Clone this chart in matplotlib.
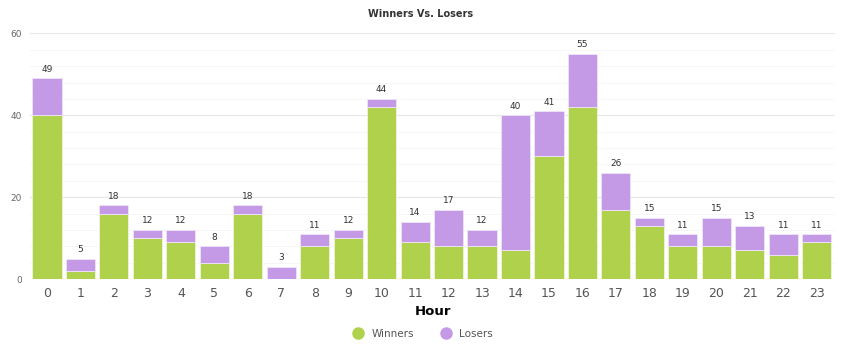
import matplotlib
matplotlib.use("Agg")
import matplotlib.pyplot as plt
from matplotlib.lines import Line2D
import numpy as np

hours = list(range(24))
totals = [49, 5, 18, 12, 12, 8, 18, 3, 11, 12, 44, 14, 17, 12, 40, 41, 55, 26, 15, 11, 15, 13, 11, 11]
winners = [40, 2, 16, 10, 9, 4, 16, 0, 8, 10, 42, 9, 8, 8, 7, 30, 42, 17, 13, 8, 8, 7, 6, 9]
losers = [t - w for t, w in zip(totals, winners)]

green = '#b0d14b'
purple = '#c49ae6'

fig = plt.figure(figsize=(8.41, 3.56), dpi=100)
ax = fig.add_axes([0.036, 0.216, 0.957, 0.690])

x = np.arange(len(hours))
ax.bar(x, winners, width=0.87, color=green, edgecolor='#eef5dd', linewidth=0.6, zorder=3)
ax.bar(x, losers, bottom=winners, width=0.87, color=purple, edgecolor='#efe4fa', linewidth=0.6, zorder=3)

for xi, t in zip(x, totals):
    ax.text(xi, t + 1.1, str(t), ha='center', va='bottom', fontsize=6.5, color='#333333')

ax.set_xlim(-0.5, 23.55)
ax.set_ylim(0, 60)
ax.set_yticks([0, 20, 40, 60])
ax.set_yticks(np.arange(0, 61, 4), minor=True)
ax.set_xticks(x)
ax.set_xticklabels([str(h) for h in hours])
ax.tick_params(axis='y', which='both', length=0, labelsize=6.5, labelcolor='#666666', pad=6)
ax.tick_params(axis='x', length=0, labelsize=9, labelcolor='#555555', pad=6)
ax.grid(axis='y', which='major', color='#e6e6e6', linewidth=0.8, zorder=0)
ax.grid(axis='y', which='minor', color='#f5f5f5', linewidth=0.6, zorder=0)
for s in ax.spines.values():
    s.set_visible(False)

ax.set_xlabel('Hour', fontsize=9.5, fontweight='bold', color='#000000', labelpad=3)
fig.text(0.5, 0.96, 'Winners Vs. Losers', ha='center', va='center', fontsize=7, fontweight='bold', color='#333333')

handles = [Line2D([], [], marker='o', linestyle='', markersize=8, color=green),
           Line2D([], [], marker='o', linestyle='', markersize=8, color=purple)]
fig.legend(handles, ['Winners', 'Losers'], loc='center', bbox_to_anchor=(0.5, 0.062), ncol=2,
           frameon=False, fontsize=7.5, labelcolor='#555555', handletextpad=0.3, columnspacing=2.0)

fig.savefig('out.png', dpi=100)
